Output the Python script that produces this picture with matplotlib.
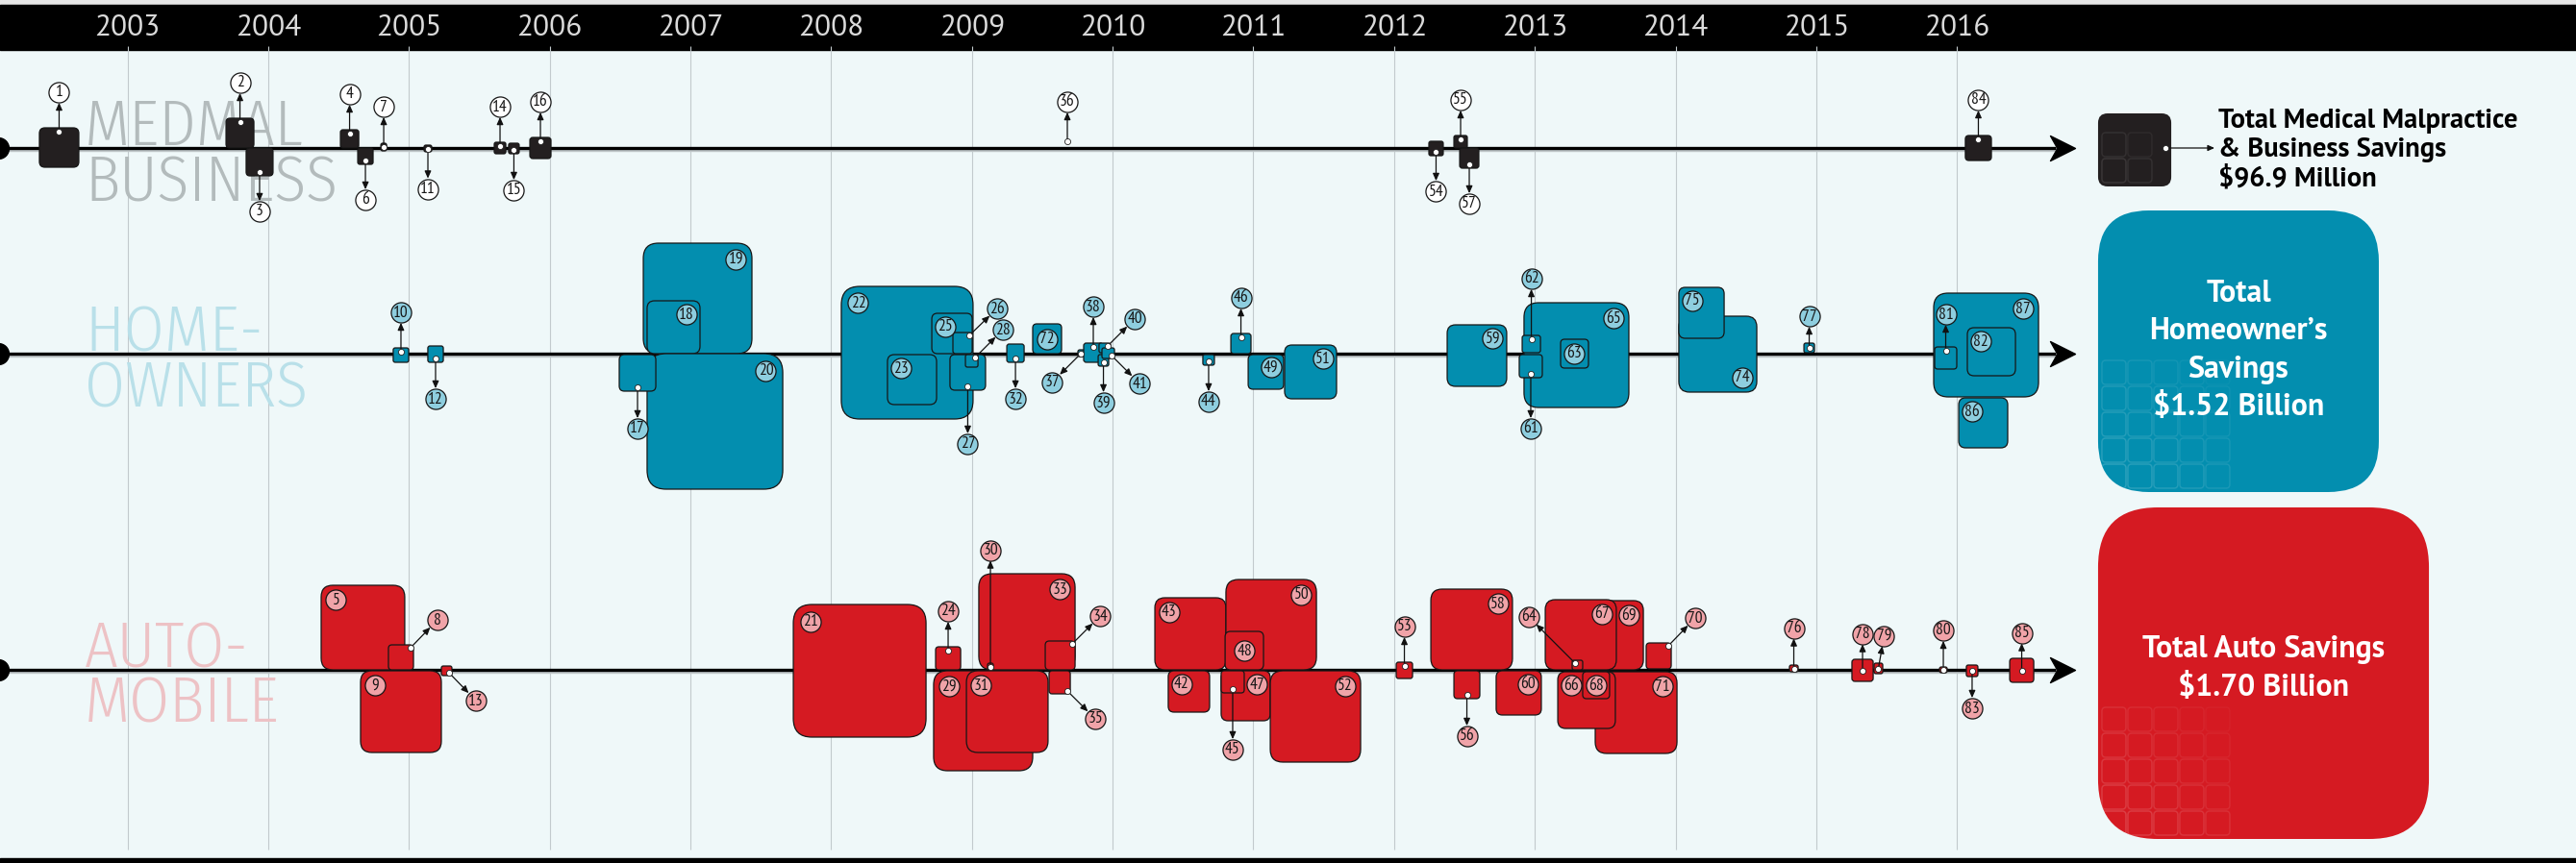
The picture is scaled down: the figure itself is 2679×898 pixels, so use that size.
import matplotlib
matplotlib.use('Agg')
import matplotlib.pyplot as plt
from matplotlib.patches import FancyBboxPatch
from matplotlib.path import Path

# ------------------------------------------------------------------
# Data: start / end date of each saving (decimal year),
# box edges in size units above (+) / below (-) the timeline
# ------------------------------------------------------------------
years = list(range(2003, 2017))

med_ids = [1, 2, 3, 4, 6, 7, 11, 14, 15, 16, 36, 54, 55, 57, 84]
med_start = [2002.374, 2003.700, 2003.843, 2004.513, 2004.636, 2004.800, 2005.107, 2005.606,
             2005.708, 2005.859, 2009.671, 2012.247, 2012.425, 2012.466, 2016.059]
med_end = [2002.654, 2003.898, 2004.034, 2004.643, 2004.745, 2004.841, 2005.162, 2005.688,
           2005.783, 2006.009, 2009.685, 2012.349, 2012.520, 2012.602, 2016.244]
med_top = [21, 31, 0, 19, 0, 5, 3, 6, 5, 11, 9, 7, 13, 0, 13]
med_bottom = [-20, 0, -29, 0, -17, -3, -4, -6, -6, -11, 5, -8, 0, -21, -13]

home_ids = [10, 12, 19, 18, 20, 17, 22, 23, 25, 26, 27, 28, 32, 72, 37, 38, 40, 39, 41, 44,
            46, 49, 51, 59, 65, 63, 62, 61, 74, 75, 77, 87, 82, 81, 86]
home_start = [2004.888, 2005.134, 2006.665, 2006.692, 2006.692, 2006.494, 2008.072, 2008.400,
              2008.715, 2008.865, 2008.844, 2008.954, 2009.248, 2009.432, 2009.753, 2009.794,
              2009.903, 2009.897, 2009.924, 2010.641, 2010.840, 2010.963, 2011.222, 2012.377,
              2012.923, 2013.183, 2012.910, 2012.889, 2014.023, 2014.023, 2014.912, 2015.834,
              2016.073, 2015.841, 2016.012]
home_end = [2004.998, 2005.244, 2007.437, 2007.068, 2007.656, 2006.754, 2009.008, 2008.749,
            2009.002, 2009.002, 2009.097, 2009.043, 2009.371, 2009.637, 2009.801, 2009.931,
            2009.985, 2009.972, 2010.013, 2010.723, 2010.983, 2011.215, 2011.591, 2012.800,
            2013.668, 2013.381, 2013.040, 2013.053, 2014.577, 2014.345, 2014.987, 2016.579,
            2016.415, 2015.998, 2016.360]
home_top = [6, 8, 115, 55, 0, -1, 70, -1, 42, 22, -1, -1, 10, 31, 4, 11, 11, -1, 6, -1,
            21, -1, 9, 30, 53, 15, 19, -1, 39, 69, 11, 63, 27, 7, -46]
home_bottom = [-9, -9, 0, 0, -141, -39, -68, -53, 0, 0, -38, -14, -9, 0, -3, -9, 1, -13, -5, -12,
               0, -37, -47, -34, -56, -15, 1, -25, -40, 16, 1, -45, -23, -16, -98]

auto_ids = [5, 9, 8, 13, 21, 24, 29, 31, 33, 30, 34, 35, 43, 50, 48, 42, 47, 45, 52, 53,
            58, 56, 60, 69, 67, 64, 70, 71, 66, 68, 76, 78, 79, 80, 83, 85]
auto_start = [2004.376, 2004.656, 2004.854, 2005.230, 2007.731, 2008.742, 2008.728, 2008.961,
              2009.049, 2009.111, 2009.521, 2009.548, 2010.300, 2010.805, 2010.799, 2010.395,
              2010.771, 2010.771, 2011.120, 2012.015, 2012.261, 2012.425, 2012.725, 2013.272,
              2013.074, 2013.265, 2013.791, 2013.429, 2013.163, 2013.340, 2014.809, 2015.253,
              2015.410, 2015.875, 2016.066, 2016.374]
auto_end = [2004.970, 2005.230, 2005.032, 2005.305, 2008.674, 2008.920, 2009.432, 2009.541,
            2009.733, 2009.152, 2009.733, 2009.699, 2010.805, 2011.448, 2011.072, 2010.689,
            2011.120, 2010.935, 2011.762, 2012.131, 2012.841, 2012.609, 2013.046, 2013.771,
            2013.579, 2013.340, 2013.969, 2014.010, 2013.572, 2013.531, 2014.871, 2015.404,
            2015.472, 2015.930, 2016.148, 2016.545]
auto_top = [88, -1, 26, 4, 68, 24, -1, -1, 100, 7, 30, -1, 75, 94, 40, -1, -1, -1, -1, 8,
            84, -1, -1, 72, 73, 10, 28, -2, -2, -2, 5, 11, 7, 3, 5, 12]
auto_bottom = [0, -86, 0, -6, -70, 0, -105, -86, 0, 0, 0, -25, 0, 0, 0, -44, -53, -24, -96, -9,
               0, -30, -47, 0, 0, 0, 1, -87, -61, -30, -2, -12, -4, -3, -7, -13]

lane_titles = ['MEDMAL\nBUSINESS', 'HOME-\nOWNERS', 'AUTO-\nMOBILE']
total_texts = ['Total Medical Malpractice\n& Business Savings\n$96.9 Million',
               'Total\nHomeowner\u2019s\nSavings\n$1.52 Billion',
               'Total Auto Savings\n$1.70 Billion']
total_start = [2017.002, 2017.002, 2017.002]
total_end = [2017.522, 2018.997, 2019.353]
total_top = [36, 149, 169]
total_bottom = [-40, -144, -176]

# ------------------------------------------------------------------
# Layout / style
# ------------------------------------------------------------------
W, H = 2679, 898
X_MIN, X_MAX = 2002.094, 2020.398
PX = W / (X_MAX - X_MIN)          # pixels per year
LANES = [744, 530, 201]
FILL = ['#231F20', '#038EAF', '#D51A22']
BADGE = ['#FFFFFF', '#8ECEDF', '#F0A3A8']
TITLE_COLOR = ['#B3BBBC', '#B9E0E9', '#EDC2C5']
BG = '#EFF8F9'
NARROW = 'PT Sans Narrow'
TITLE_FONT = 'Fira Sans Condensed'
BOLD_FONT = 'PT Sans'

# label placement: inner corner badge, or (anchor, dx px, dy px) arrow call-out
label_layout = {
    1: ('t', 0, 41), 2: ('t', 0, 41), 3: ('b', 0, -41), 4: ('t', 0, 41), 6: ('b', 0, -41),
    7: ('c', 0, 42), 11: ('c', 0, -42), 14: ('t', 0, 41), 15: ('b', 0, -42), 16: ('t', 0, 41),
    36: ('c', 0, 41), 54: ('b', 0, -41), 55: ('t', 0, 41), 57: ('b', 0, -41), 84: ('t', 0, 41),
    10: ('t', 0, 41), 12: ('b', 0, -42), 19: 'tr', 18: 'tr', 20: 'tr', 17: ('b', 0, -43),
    22: 'tl', 23: 'tl', 25: 'tl', 26: ('tr', 29, 28), 27: ('b', 0, -60), 28: ('tr', 29, 29),
    32: ('b', 0, -42), 72: 'c', 37: ('c', -30, -30), 38: ('t', 0, 42), 40: ('tr', 28, 28),
    39: ('b', 0, -42), 41: ('br', 29, -29), 44: ('b', 0, -42), 46: ('t', 0, 41), 49: 'tr',
    51: 'tr', 59: 'tr', 65: 'tr', 63: 'c', 62: ('t', 0, 63), 61: ('b', 0, -57), 74: 'br',
    75: 'tl', 77: ('c', 0, 33), 87: 'tr', 82: 'tl', 81: ('t', 0, 38), 86: 'tl',
    5: 'tl', 9: 'tl', 8: ('tr', 28, 29), 13: ('br', 28, -29), 21: 'tl', 24: ('t', 0, 41),
    29: 'tl', 31: 'tl', 33: 'tr', 30: ('c', 0, 121), 34: ('tr', 29, 29), 35: ('br', 29, -29),
    43: 'tl', 50: 'tr', 48: 'c', 42: 'tl', 47: 'tr', 45: ('b', 0, -63), 52: 'tr',
    53: ('t', 0, 41), 58: 'tr', 56: ('b', 0, -43), 60: 'tr', 69: 'tr', 67: 'tr',
    64: ('tl', -48, 48), 70: ('tr', 28, 29), 71: 'tr', 66: 'tl', 68: 'c', 76: ('c', 0, 42),
    78: ('c', 0, 38), 79: ('c', 6, 34), 80: ('c', 0, 41), 83: ('c', 0, -39), 85: ('c', 0, 39),
}

fig = plt.figure(figsize=(W / 100, H / 100), dpi=100)
ax = fig.add_axes([0, 0, 1, 1])
ax.set_xlim(X_MIN, X_MAX)
ax.set_ylim(0, H)
ax.axis('off')
fig.patch.set_facecolor(BG)

# header bar, footer line, year grid
ax.axhspan(H - 5, H, color='#E6E6E6', zorder=0)
ax.axhspan(H - 52, H - 5, color='black', zorder=0.2)
ax.axhspan(0, 5, color='black', zorder=0.2)
ax.vlines(years, 14, H - 48, color='#C2CACD', lw=0.8, zorder=0.5)
for y in years:
    ax.text(y, H - 29, str(y), ha='center', va='center', color='#DADADA',
            fontsize=22.5, family='PT Sans', zorder=1)

head = Path([(0.5, 0), (-0.5, 0.5), (-0.22, 0), (-0.5, -0.5), (0.5, 0)],
            [Path.MOVETO, Path.LINETO, Path.LINETO, Path.LINETO, Path.CLOSEPOLY])
x_tip = X_MIN + 2158 / PX


def px(v):
    return v / PX


def draw_box(x0, x1, top, bottom, lane, color, z, edge='#161616', lw=0.9, frac=0.14):
    w = x1 - x0
    h = top - bottom
    side = min(w * PX, h)
    r = max(frac * side, 2.0)
    p = FancyBboxPatch((x0, lane + bottom), w, h,
                       boxstyle=f'round,pad=0,rounding_size={r / PX}',
                       mutation_aspect=PX, fc=color, ec=edge, lw=lw, zorder=z)
    ax.add_patch(p)
    return p


def badge(x, y, num, color):
    ax.plot(x, y, 'o', ms=15.2, mfc=color, mec='#161616', mew=0.9, zorder=60)
    ax.text(x, y - 0.5, str(num), ha='center', va='center', fontsize=12.5,
            family=NARROW, color='#161616', zorder=61)


lanes = [
    (med_ids, med_start, med_end, med_top, med_bottom),
    (home_ids, home_start, home_end, home_top, home_bottom),
    (auto_ids, auto_start, auto_end, auto_top, auto_bottom),
]

for k, (ids, xs0, xs1, tops, bots) in enumerate(lanes):
    lane = LANES[k]
    # lane title (two stacked words); baseline of the lower word
    ax.text(X_MIN + px(88), lane - 55, lane_titles[k], ha='left', va='baseline', fontsize=48.5,
            family=TITLE_FONT, fontweight=300, color=TITLE_COLOR[k], linespacing=0.88,
            zorder=1)
    # timeline
    ax.plot([X_MIN, x_tip - px(20)], [lane - 1.5, lane - 1.5], color='#BFC6C8', lw=2.4, zorder=1.9)
    ax.plot([X_MIN, x_tip - px(20)], [lane, lane], color='black', lw=2.4, zorder=2,
            solid_capstyle='butt')
    ax.plot(x_tip - px(13), lane, marker=head, ms=18.7, color='black', zorder=2)
    ax.plot(X_MIN - px(2), lane, 'o', ms=15.8, color='black', zorder=2)

    for i, (n, x0, x1, tp, bt) in enumerate(zip(ids, xs0, xs1, tops, bots)):
        draw_box(x0, x1, tp, bt, lane, FILL[k], 3 + i * 0.1)
        spec = label_layout[n]
        side = min((x1 - x0) * PX, tp - bt)
        inset = 12 + 0.04 * side
        if isinstance(spec, str):
            if spec == 'tl':
                bx, by = x0 + px(inset), lane + tp - inset
            elif spec == 'tr':
                bx, by = x1 - px(inset), lane + tp - inset
            elif spec == 'br':
                bx, by = x1 - px(inset), lane + bt + inset
            else:
                bx, by = (x0 + x1) / 2, lane + (tp + bt) / 2
            badge(bx, by, n, BADGE[k])
        else:
            anchor, ddx, ddy = spec
            cx = (x0 + x1) / 2
            if anchor == 't':
                dx_, dy_ = cx, lane + tp - 4
            elif anchor == 'b':
                dx_, dy_ = cx, lane + bt + 4
            elif anchor == 'tr':
                dx_, dy_ = x1 - px(3), lane + tp - 3
            elif anchor == 'br':
                dx_, dy_ = x1 - px(3), lane + bt + 3
            elif anchor == 'tl':
                dx_, dy_ = x0 + px(3), lane + tp - 3
            else:
                dx_, dy_ = cx, lane + (tp + bt) / 2
            bx, by = dx_ + px(ddx), dy_ + ddy
            ax.annotate('', xy=(bx, by), xytext=(dx_, dy_),
                        arrowprops=dict(arrowstyle='-|>,head_length=0.45,head_width=0.2',
                                        color='#111111', lw=0.9, shrinkA=0, shrinkB=7.8),
                        zorder=55)
            ax.plot(dx_, dy_, 'o', ms=4.4, mfc='white', mec='#222222', mew=0.6, zorder=57)
            badge(bx, by, n, BADGE[k])

# total boxes
for k in range(3):
    lane = LANES[k]
    x0, x1 = total_start[k], total_end[k]
    tp, bt = total_top[k], total_bottom[k]
    frac = 0.13 if k == 0 else 0.18
    box = draw_box(x0, x1, tp, bt, lane, FILL[k], 10, edge='none', lw=0, frac=frac)
    # faint tile pattern in the lower-left corner
    n = 2 if k == 0 else 5
    cell = 27
    for i in range(n):
        for j in range(n):
            a = (0.10 if k == 0 else 0.16) * (1 - (i + j) / (2 * n))
            tile = FancyBboxPatch((x0 + px(4 + i * cell), lane + bt + 4 + j * cell),
                                  px(cell - 2), cell - 2,
                                  boxstyle=f'round,pad=0,rounding_size={px(4)}',
                                  mutation_aspect=PX, fc='none',
                                  ec=(1, 1, 1, a), lw=1.1, zorder=11)
            tile.set_clip_path(box)
            ax.add_patch(tile)

# medmal total: pointer + left aligned caption
lane = LANES[0]
dot_x = total_end[0] - px(6)
ax.annotate('', xy=(total_end[0] + px(45), lane), xytext=(dot_x, lane),
            arrowprops=dict(arrowstyle='-|>,head_length=0.4,head_width=0.18',
                            color='#111111', lw=0.9, shrinkA=0, shrinkB=0), zorder=55)
ax.plot(dot_x, lane, 'o', ms=4.4, mfc='white', mec='#222222', mew=0.6, zorder=57)
ax.text(total_end[0] + px(49), lane - 2, total_texts[0], ha='left', va='center',
        fontsize=20.5, fontweight='bold', family=BOLD_FONT, color='black',
        linespacing=1.2, zorder=20)
ax.text((total_start[1] + total_end[1]) / 2, LANES[1] + 3, total_texts[1], ha='center',
        va='center', fontsize=23, fontweight='bold', family=BOLD_FONT, color='white',
        linespacing=1.42, zorder=20)
ax.text((total_start[2] + total_end[2]) / 2, LANES[2] + 1, total_texts[2], ha='center',
        va='center', fontsize=23, fontweight='bold', family=BOLD_FONT, color='white',
        linespacing=1.42, zorder=20)

fig.savefig('out.png', dpi=100, facecolor=BG)
